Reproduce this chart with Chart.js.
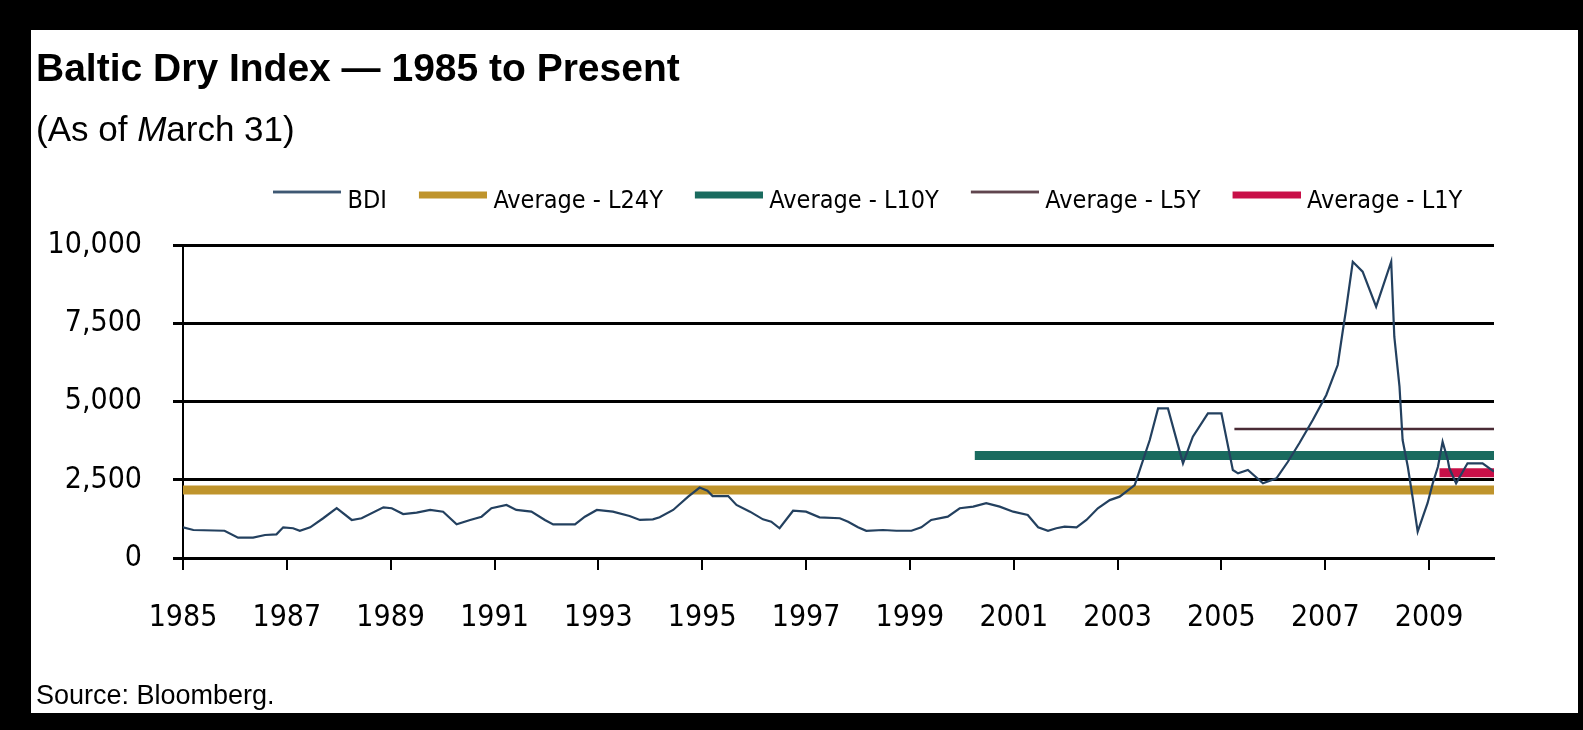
<!DOCTYPE html>
<html>
<head>
<meta charset="utf-8">
<script src="https://cdn.jsdelivr.net/npm/chart.js@4.4.0/dist/chart.umd.min.js"></script>
<style>
  html, body { margin: 0; padding: 0; background: #000; width: 1583px; height: 730px; overflow: hidden; }
  #frame { position: absolute; left: 31px; top: 30px; width: 1547px; height: 683px; background: #fff; }
  #chartBox { position: absolute; left: 0; top: 0; width: 1547px; height: 683px; }
  .txt { position: absolute; color: #000; font-family: "Liberation Sans", Arial, sans-serif; white-space: nowrap; line-height: 1; }
  #title { left: 5px; top: 18px; font-size: 39px; font-weight: bold; }
  #subtitle { left: 5px; top: 81px; font-size: 35px; }
  #source { left: 5px; top: 652px; font-size: 27px; }
</style>
</head>
<body>
<div id="frame">
  <div id="chartBox"><canvas id="bdiChart"></canvas></div>
  <div class="txt" id="title">Baltic Dry Index — 1985 to Present</div>
  <div class="txt" id="subtitle">(As of <i>M</i>arch 31)</div>
  <div class="txt" id="source">Source: Bloomberg.</div>
</div>
<script>
// BDI readings (decimal year, index value)
const bdiYears = [
  1985.0, 1985.2, 1985.8, 1986.06, 1986.35, 1986.58, 1986.8, 1986.93, 1987.12, 1987.25,
  1987.45, 1987.7, 1987.96, 1988.25, 1988.44, 1988.86, 1989.02, 1989.24, 1989.5, 1989.76,
  1990.01, 1990.27, 1990.53, 1990.75, 1990.94, 1991.23, 1991.42, 1991.71, 1991.97, 1992.13,
  1992.55, 1992.74, 1992.97, 1993.28, 1993.6, 1993.8, 1994.05, 1994.18, 1994.44, 1994.73,
  1994.95, 1995.1, 1995.2, 1995.5, 1995.66, 1995.92, 1996.17, 1996.33, 1996.49, 1996.75,
  1997.0, 1997.26, 1997.65, 1997.81, 1998.0, 1998.16, 1998.48, 1998.74, 1999.03, 1999.22,
  1999.41, 1999.73, 1999.96, 2000.22, 2000.47, 2000.73, 2000.99, 2001.27, 2001.47, 2001.66,
  2001.82, 2001.98, 2002.21, 2002.4, 2002.62, 2002.85, 2003.04, 2003.33, 2003.62, 2003.78,
  2003.97, 2004.26, 2004.45, 2004.74, 2005.0, 2005.22, 2005.32, 2005.51, 2005.8, 2006.06,
  2006.28, 2006.5, 2006.76, 2007.02, 2007.24, 2007.34, 2007.4, 2007.53, 2007.72, 2007.98,
  2008.27, 2008.33, 2008.43, 2008.49, 2008.59, 2008.69, 2008.78, 2008.97, 2009.07, 2009.17,
  2009.26, 2009.36, 2009.39, 2009.52, 2009.74, 2010.03, 2010.25
];
const bdiValues = [
  980, 895, 870, 650, 650, 735, 757, 980, 950, 870,
  980, 1270, 1590, 1215, 1270, 1620, 1590, 1405, 1450, 1535,
  1480, 1075, 1215, 1320, 1590, 1695, 1535, 1480, 1215, 1075,
  1075, 1320, 1535, 1480, 1340, 1215, 1235, 1300, 1535, 1960,
  2250, 2150, 1980, 1980, 1695, 1480, 1235, 1160, 950, 1510,
  1480, 1300, 1270, 1160, 980, 870, 895, 870, 870, 980,
  1215, 1320, 1590, 1640, 1750, 1640, 1480, 1375, 980, 870,
  950, 1000, 980, 1215, 1590, 1850, 1960, 2330, 3770, 4780,
  4780, 3025, 3875, 4620, 4620, 2810, 2705, 2810, 2385, 2545,
  3075, 3665, 4410, 5210, 6165, 7285, 7925, 9465, 9150, 8030,
  9465, 7070, 5475, 3770, 2915, 1855, 840, 1750, 2385, 2915,
  3715, 3130, 2865, 2385, 3025, 3025, 2760
];

// trailing averages: label, value, first year covered
const avgNames = ['Average - L24Y', 'Average - L10Y', 'Average - L5Y', 'Average - L1Y'];
const avgValues = [2170, 3275, 4120, 2720];
const avgStarts = [1985, 2000.25, 2005.25, 2009.2];
const endYear = 2010.25;

const yearTicks = [1985, 1987, 1989, 1991, 1993, 1995, 1997, 1999, 2001, 2003, 2005, 2007, 2009];
const valueTicks = [0, 2500, 5000, 7500, 10000];

const avgColors = ['#bf942c', '#1a6b5f', '#4a2b35', '#c81048'];
const avgWidths = [9, 9, 2.5, 9];

// legend swatch: line sits level with the top of the text, like the original
function swatch(color, width) {
  const c = document.createElement('canvas');
  c.width = 82;
  c.height = 30;
  const g = c.getContext('2d');
  g.fillStyle = color;
  const cy = width > 4 ? 8.5 : 5.5;
  g.fillRect(14, cy - width / 2, 68, width);
  return c;
}

const datasets = [{
  label: 'BDI',
  data: bdiYears.map((x, i) => ({x: x, y: bdiValues[i]})),
  borderColor: '#23405f',
  borderWidth: 2.2,
  pointRadius: 0,
  tension: 0
}];
avgNames.forEach((name, i) => {
  datasets.push({
    label: name,
    data: [{x: avgStarts[i], y: avgValues[i]}, {x: endYear, y: avgValues[i]}],
    borderColor: avgColors[i],
    borderWidth: avgWidths[i],
    borderCapStyle: 'butt',
    pointRadius: 0
  });
});
const swatches = [swatch('#23405f', 2.5)].concat(avgColors.map((c, i) => swatch(c, avgWidths[i] > 4 ? 7 : avgWidths[i])));

// put the legend row where the original has it
const legendShift = {
  id: 'legendShift',
  afterLayout(chart) {
    chart.legend.left = 210;
    chart.legend.right = chart.width;
    chart.legend.top = 135;
  }
};

const condensed = "'DejaVu Sans Condensed', 'DejaVu Sans', sans-serif";
Chart.defaults.font.family = condensed;
Chart.defaults.color = '#000';

const ctx = document.getElementById('bdiChart').getContext('2d');
new Chart(ctx, {
  type: 'line',
  data: {datasets: datasets},
  plugins: [legendShift],
  options: {
    responsive: true,
    maintainAspectRatio: false,
    animation: false,
    layout: {padding: {top: 156, right: 84, bottom: 0, left: 0}},
    plugins: {
      tooltip: {enabled: false},
      legend: {
        align: 'start',
        labels: {
          usePointStyle: true,
          pointStyleWidth: 70,
          padding: 24,
          font: {size: 25},
          generateLabels: chart => chart.data.datasets.map((ds, i) => ({
            text: ds.label,
            pointStyle: swatches[i],
            datasetIndex: i,
            hidden: false,
            lineWidth: 0,
            fontColor: '#000'
          }))
        }
      }
    },
    scales: {
      x: {
        type: 'linear',
        min: 1985,
        max: endYear,
        afterBuildTicks: s => { s.ticks = yearTicks.map(v => ({value: v})); },
        afterFit: s => { s.height = 155; },
        grid: {drawOnChartArea: false, drawTicks: true, tickLength: 12, color: '#000', lineWidth: 2},
        border: {display: true, color: '#000', width: 3},
        ticks: {font: {size: 30}, padding: 30, maxRotation: 0, autoSkip: false, callback: v => String(v)}
      },
      y: {
        min: 0,
        max: 10000,
        afterBuildTicks: s => { s.ticks = valueTicks.map(v => ({value: v})); },
        afterFit: s => { s.width = 152; },
        grid: {color: '#000', lineWidth: 3, tickLength: 10, drawTicks: true},
        border: {display: true, color: '#000', width: 2},
        ticks: {font: {size: 30}, padding: 31, callback: v => v.toLocaleString('en-US')}
      }
    }
  }
});
</script>
</body>
</html>
